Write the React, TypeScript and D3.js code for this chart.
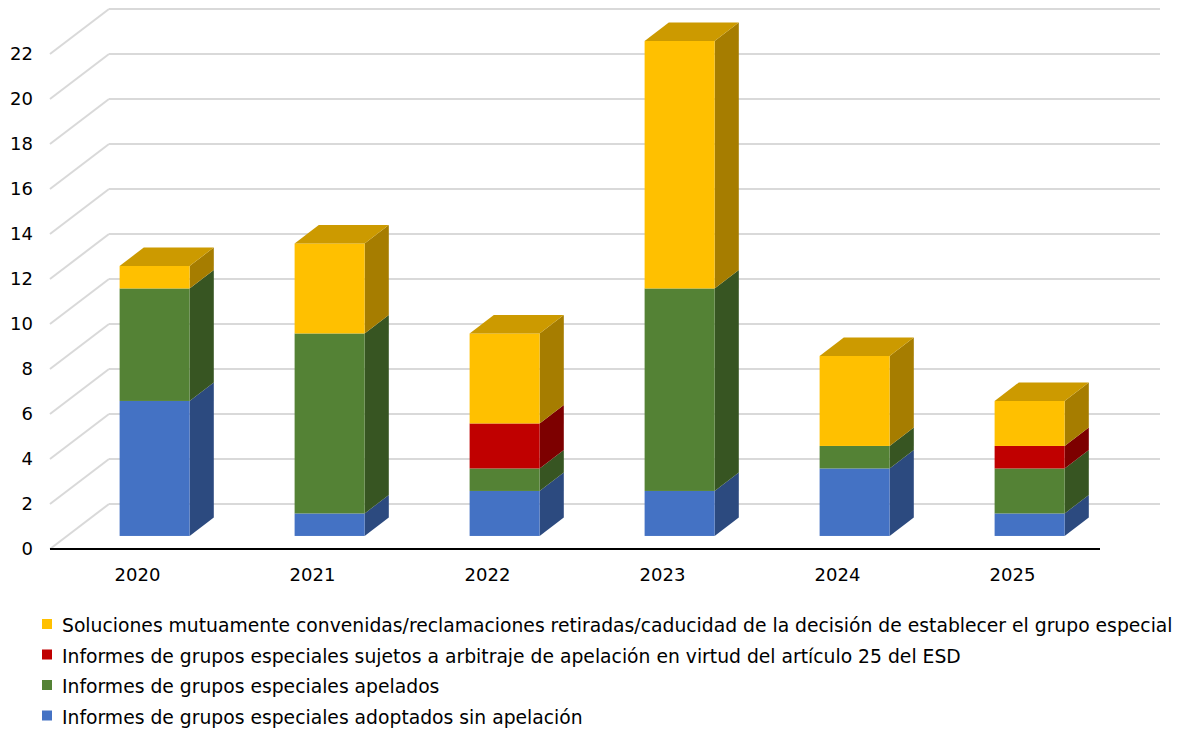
import React from "react";
import * as d3 from "d3";

const years = ["2020", "2021", "2022", "2023", "2024", "2025"];
const adoptadosSinApelacion = [6, 1, 2, 2, 3, 1];
const apelados = [5, 8, 1, 9, 1, 2];
const arbitraje = [0, 0, 2, 0, 0, 1];
const soluciones = [1, 4, 4, 11, 4, 2];
const yTicks = [0, 2, 4, 6, 8, 10, 12, 14, 16, 18, 20, 22];

const seriesNames = [
  "Informes de grupos especiales adoptados sin apelación",
  "Informes de grupos especiales apelados",
  "Informes de grupos especiales sujetos a arbitraje de apelación en virtud del artículo 25 del ESD",
  "Soluciones mutuamente convenidas/reclamaciones retiradas/caducidad de la decisión de establecer el grupo especial",
];
const seriesValues = [adoptadosSinApelacion, apelados, arbitraje, soluciones];
const frontColors = ["#4472C4", "#548235", "#C00000", "#FFC000"];

const W = 1180;
const H = 731;
const FONT = "'DejaVu Sans', Verdana, sans-serif";

export default function App() {
  const x = d3.scaleBand<string>().domain(years).range([50, 1100]).paddingInner(0.6).paddingOuter(0.3);
  const y = d3.scaleLinear().domain([0, 22]).range([549, 54]);
  const DX = 59;
  const DY = -45;
  const fFront = 0.29;
  const fBack = 0.70;
  const rightBack = 1160;

  const stack = d3.stack<number>()
    .keys(d3.range(seriesValues.length).map(String))
    .value((i, k) => seriesValues[+k][i]);
  const stacked = stack(d3.range(years.length));

  const darker = (c: string, k: number) => {
    const col = d3.rgb(c);
    return d3.rgb(col.r * k, col.g * k, col.b * k).formatHex();
  };

  const bars: JSX.Element[] = [];
  years.forEach((yr, i) => {
    const x0 = (x(yr) as number) + DX * fFront;
    const x1 = x0 + x.bandwidth();
    const ox = DX * (fBack - fFront);
    const oy = DY * (fBack - fFront);
    const off = DY * fFront;
    let topIdx = -1;
    stacked.forEach((s, si) => {
      const [a, b] = s[i];
      if (b - a <= 0) return;
      topIdx = si;
      const yb = y(a) + off;
      const yt = y(b) + off;
      const c = frontColors[si];
      bars.push(
        <g key={`${yr}-${si}`}>
          <polygon
            points={`${x1},${yb} ${x1 + ox},${yb + oy} ${x1 + ox},${yt + oy} ${x1},${yt}`}
            fill={darker(c, 0.65)}
          />
          <rect x={x0} y={yt} width={x1 - x0} height={yb - yt} fill={c} />
        </g>
      );
    });
    if (topIdx >= 0) {
      const yt = y(stacked[topIdx][i][1]) + off;
      const c = frontColors[topIdx];
      bars.push(
        <polygon
          key={`${yr}-top`}
          points={`${x0},${yt} ${x1},${yt} ${x1 + ox},${yt + oy} ${x0 + ox},${yt + oy}`}
          fill={darker(c, 0.8)}
        />
      );
    }
  });

  const legendOrder = [3, 2, 1, 0];

  return (
    <svg width={W} height={H} style={{ position: "absolute", left: 0, top: 0, background: "#fff" }} fontFamily={FONT}>
      <rect width={W} height={H} fill="#fff" />
      {yTicks.map((t) => (
        <g key={t}>
          <line x1={50} y1={y(t)} x2={50 + DX} y2={y(t) + DY} stroke="#d9d9d9" strokeWidth={2} />
          <line x1={50 + DX} y1={y(t) + DY} x2={rightBack} y2={y(t) + DY} stroke="#d9d9d9" strokeWidth={2} />
          <text x={33} y={y(t)} dy="0.36em" textAnchor="end" fontSize={18} fill="#000">
            {t}
          </text>
        </g>
      ))}
      <line x1={50} y1={y(0)} x2={1100} y2={y(0)} stroke="#000" strokeWidth={2} />
      {bars}
      {years.map((yr) => (
        <text key={yr} x={(x(yr) as number) + x.bandwidth() / 2} y={581} textAnchor="middle" fontSize={18} fill="#000">
          {yr}
        </text>
      ))}
      {legendOrder.map((si, r) => (
        <g key={si}>
          <rect x={42} y={619 + r * 30.5} width={10} height={10} fill={frontColors[si]} />
          <text x={62} y={632 + r * 30.5} fontSize={18.75} fill="#000">
            {seriesNames[si]}
          </text>
        </g>
      ))}
    </svg>
  );
}
